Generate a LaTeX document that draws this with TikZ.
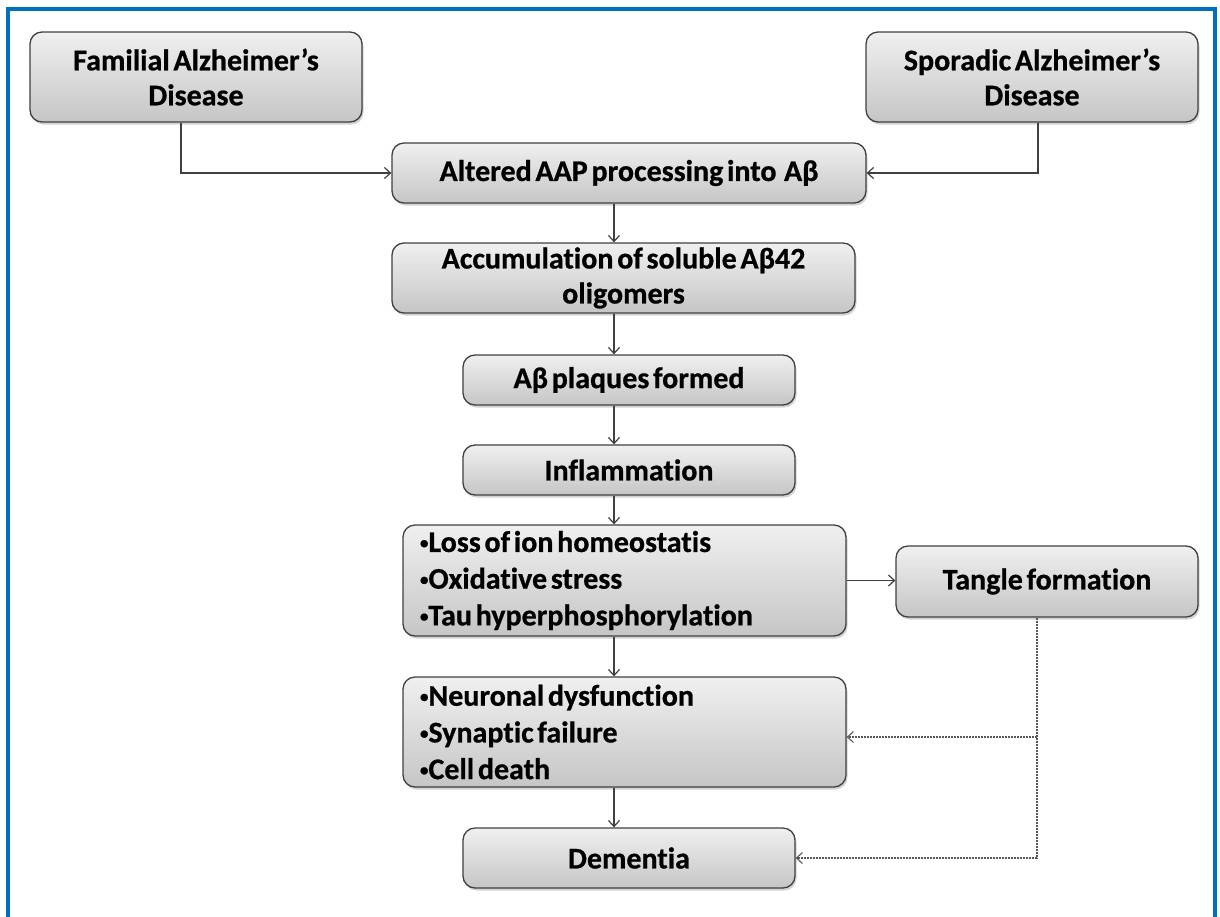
\documentclass[tikz,border=0pt]{standalone}
\usepackage{fontspec}
\setmainfont{Carlito}[Ligatures=NoCommon, WordSpace=0.55, BoldFeatures={FakeBold=0.7}]
\usetikzlibrary{arrows.meta,shadows}
\definecolor{frameblue}{HTML}{0070C0}
\definecolor{edgegray}{HTML}{404040}
\newcommand\mybul{\raisebox{3.5pt}{\fontsize{17}{0}\selectfont•}}
\tikzset{
  box/.style={draw=edgegray, line width=1.3pt, rounded corners=12pt,
    top color=gray!12, bottom color=gray!45, inner sep=0pt,
    drop shadow={shadow xshift=1.5pt, shadow yshift=-2.5pt, opacity=0.35},
    font=\fontsize{30}{35}\selectfont\bfseries, align=center},
  listbox/.style={box, align=left, font=\fontsize{30}{36.7}\selectfont\bfseries,
    execute at begin node={\spaceskip=0pt\xspaceskip=0pt\relax}},
  conn/.style={draw=edgegray, line width=1.2pt, -{Straight Barb[length=6pt,width=11pt]}},
  dotconn/.style={draw=gray!70!black, line width=1.1pt, dash pattern=on 2pt off 1pt,
    -{Straight Barb[length=6pt,width=11pt]}},
}
\begin{document}
\begin{tikzpicture}[x=1pt,y=-1pt]
\useasboundingbox (0,0) rectangle (1220,916);
\draw[frameblue, line width=4pt] (8,918) -- (8,9) -- (1215,9) -- (1215,918);

\node[box, minimum width=332pt, minimum height=90pt] (fam) at (196,77) {Familial Alzheimer’s\\Disease};
\node[box, minimum width=332pt, minimum height=90pt] (spo) at (1032,77) {Sporadic Alzheimer’s\\Disease};
\node[box, minimum width=474pt, minimum height=60pt] (alt) at (629,173) {Altered AAP processing into~~Aβ};
\node[box, minimum width=463pt, minimum height=70pt] (acc) at (623.5,278) {Accumulation of soluble Aβ42\\oligomers};
\node[box, minimum width=332pt, minimum height=50pt] (plq) at (629,380) {Aβ plaques formed};
\node[box, minimum width=332pt, minimum height=50pt] (inf) at (629,470) {Inflammation};
\node[listbox, minimum width=443pt, minimum height=111pt, text width=409pt] (loss) at (624.5,580.5)
  {\mybul Loss of ion homeostatis\\\mybul Oxidative stress\\\mybul Tau hyperphosphorylation};
\node[listbox, minimum width=443pt, minimum height=110pt, text width=409pt] (neu) at (624.5,732)
  {\mybul Neuronal dysfunction\\\mybul Synaptic failure\\\mybul Cell death};
\node[box, minimum width=302pt, minimum height=71pt] (tan) at (1047,581.5) {Tangle formation};
\node[box, minimum width=332pt, minimum height=60pt] (dem) at (629,858) {Dementia};

\coordinate (ax) at (614,0);
\coordinate (dj) at (1037,737);

\draw[conn] ([xshift=-15pt]fam.south) |- (alt.west);
\draw[conn] ([xshift=6pt]spo.south) |- (alt.east);
\draw[conn] (alt.south -| ax) -- (acc.north -| ax);
\draw[conn] (acc.south -| ax) -- (plq.north -| ax);
\draw[conn] (plq.south -| ax) -- (inf.north -| ax);
\draw[conn] (inf.south -| ax) -- (loss.north -| ax);
\draw[conn] (loss.south -| ax) -- (neu.north -| ax);
\draw[conn] (neu.south -| ax) -- (dem.north -| ax);
\draw[conn] (loss.east) -- (loss.east -| tan.west);
\draw[dotconn] ([xshift=-10pt]tan.south) |- (dem.east);
\draw[dotconn] (dj) -- (dj -| neu.east);
\end{tikzpicture}
\end{document}
